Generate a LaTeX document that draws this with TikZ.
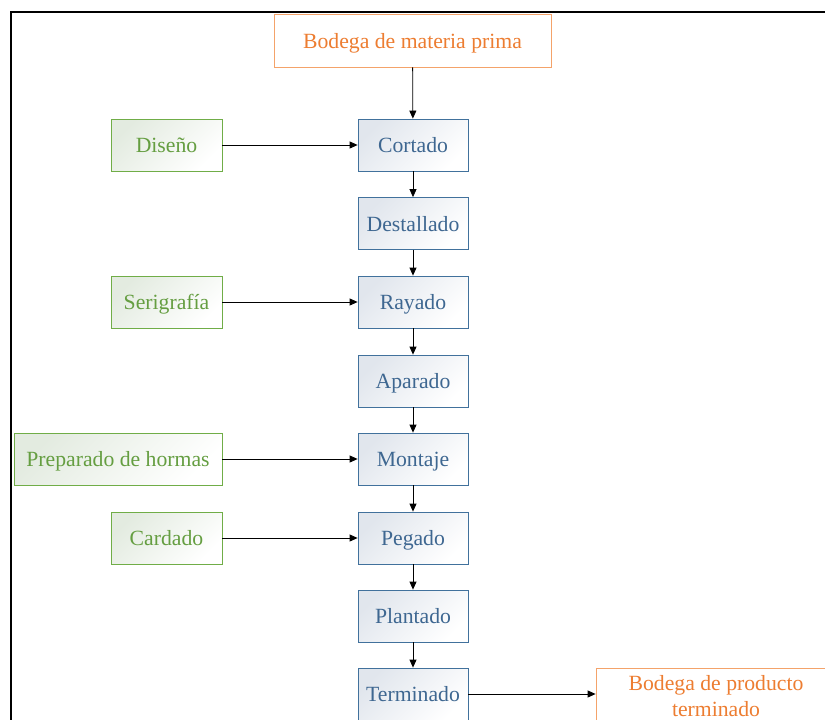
\documentclass[tikz,border=0pt]{standalone}
\usepackage{fontspec}
\setmainfont{Liberation Serif}
\usetikzlibrary{arrows.meta}
\definecolor{procblue}{HTML}{41719C}
\definecolor{proctext}{HTML}{3E6791}
\definecolor{procfill}{HTML}{E1E6ED}
\definecolor{supgreen}{HTML}{70AD47}
\definecolor{suptext}{HTML}{659E41}
\definecolor{supfill}{HTML}{E3EBE0}
\definecolor{storeorange}{HTML}{F4A36A}
\definecolor{storetext}{HTML}{ED7D31}
\tikzset{
  base/.style={rectangle, inner sep=0pt, line width=0.8pt, minimum height=52pt,
    font=\fontsize{21.7}{26}\selectfont, align=center},
  oneline/.style={text height=19.5pt, text depth=4.3pt},
  procbox/.style={base, oneline, draw=procblue, text=proctext, minimum width=110pt,
    left color=procfill, middle color=white, right color=white, shading angle=45},
  supbox/.style={base, oneline, draw=supgreen, text=suptext,
    left color=supfill, middle color=white, right color=white, shading angle=45},
  storebox/.style={base, draw=storeorange, text=storetext, fill=white},
  flow/.style={line width=0.8pt, -{Triangle[length=8pt,width=7pt]}}
}
\begin{document}
\begin{tikzpicture}[x=1pt, y=-1pt]
  \useasboundingbox (0,0) rectangle (825,720);
  \clip (0,0) rectangle (825,720);
  % outer frame
  \draw[line width=2pt] (11,12) rectangle (900,800);

  % raw material store
  \node[storebox, oneline, minimum width=277pt, minimum height=53pt] (rawstore) at (412.5,40.5) {Bodega de materia prima};

  % production line
  \node[procbox] (cortado)    at (413,145)   {Cortado};
  \node[procbox] (destallado) at (413,223.5) {Destallado};
  \node[procbox] (rayado)     at (413,302)   {Rayado};
  \node[procbox] (aparado)    at (413,381)   {Aparado};
  \node[procbox] (montaje)    at (413,459)   {Montaje};
  \node[procbox] (pegado)     at (413,538)   {Pegado};
  \node[procbox] (plantado)   at (413,616)   {Plantado};
  \node[procbox] (terminado)  at (413,694)   {Terminado};

  % supporting processes
  \node[supbox, minimum width=111pt] (diseno)     at (166.5,145) {Diseño};
  \node[supbox, minimum width=111pt] (serigrafia) at (166.5,302) {Serigrafía};
  \node[supbox, minimum width=208pt] (hormas)     at (118,459)   {Preparado de hormas};
  \node[supbox, minimum width=111pt] (cardado)    at (166.5,538) {Cardado};

  % finished goods store
  \node[storebox, minimum width=240pt, minimum height=56pt] (endstore) at (716,696) {Bodega de producto\\terminado};

  % connectors
  \draw[flow] (rawstore) -- (cortado);
  \draw[flow] (cortado) -- (destallado);
  \draw[flow] (destallado) -- (rayado);
  \draw[flow] (rayado) -- (aparado);
  \draw[flow] (aparado) -- (montaje);
  \draw[flow] (montaje) -- (pegado);
  \draw[flow] (pegado) -- (plantado);
  \draw[flow] (plantado) -- (terminado);
  \draw[flow] (diseno) -- (cortado);
  \draw[flow] (serigrafia) -- (rayado);
  \draw[flow] (hormas) -- (montaje);
  \draw[flow] (cardado) -- (pegado);
  \draw[flow] (terminado.east) -- (endstore.west |- terminado.east);
\end{tikzpicture}
\end{document}
